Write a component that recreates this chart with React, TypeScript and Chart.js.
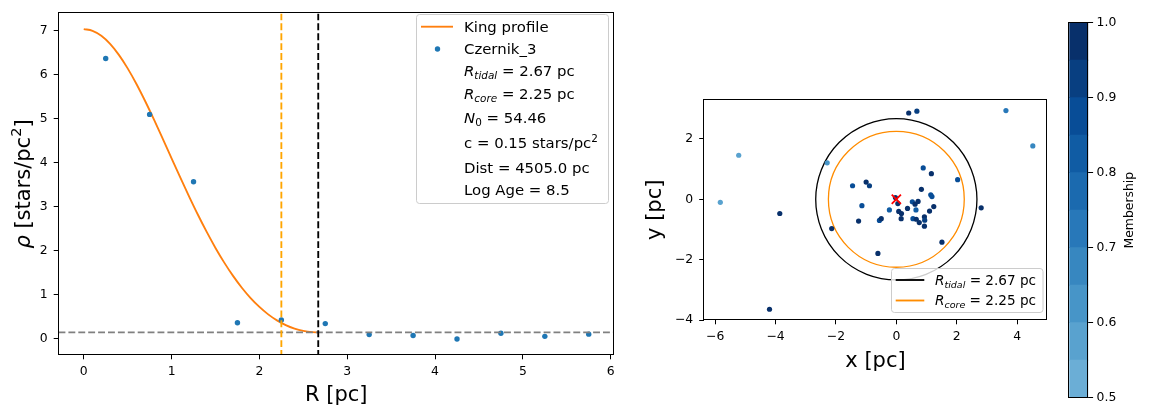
import React, { useEffect, useRef } from 'react';
import { Chart, registerables } from 'chart.js';

Chart.register(...registerables);

// ---------------- data ----------------
const PROFILE_R = [0.25, 0.75, 1.25, 1.75, 2.25, 2.75, 3.25, 3.75, 4.25, 4.75, 5.25, 5.75];
const PROFILE_RHO = [6.37, 5.1, 3.57, 0.37, 0.43, 0.35, 0.1, 0.08, 0.0, 0.13, 0.06, 0.11];

const KING_R = [0, 0.1, 0.2, 0.3, 0.4, 0.5, 0.6, 0.7, 0.8, 0.9, 1.0, 1.1, 1.2, 1.3, 1.4, 1.5, 1.6, 1.7, 1.8, 1.9,
  2.0, 2.1, 2.2, 2.3, 2.4, 2.5, 2.6, 2.67];
const KING_RHO = [7.037, 6.997, 6.885, 6.701, 6.452, 6.145, 5.791, 5.399, 4.98, 4.545, 4.103, 3.663, 3.234, 2.821,
  2.431, 2.068, 1.734, 1.433, 1.164, 0.929, 0.728, 0.559, 0.422, 0.314, 0.235, 0.183, 0.155, 0.15];

const R_TIDAL = 2.67;
const R_CORE = 2.25;
const BG_C = 0.15;
const N0 = 54.46;
const DIST = 4505.0;
const LOG_AGE = 8.5;
const CLUSTER = 'Czernik_3';

const LEFT_X_TICKS = [0, 1, 2, 3, 4, 5, 6];
const LEFT_Y_TICKS = [0, 1, 2, 3, 4, 5, 6, 7];

const STAR_X = [-5.83, -5.22, -4.2, -3.86, -2.29, -2.14, -1.45, -1.0, -0.89, -1.14, -1.25, -0.56, -0.5, -0.61, -0.23,
  -0.03, 0.05, 0.08, 0.17, 0.16, 0.37, 0.53, 0.62, 0.72, 0.65, 0.55, 0.66, 0.76, 0.93, 0.94, 0.93, 1.1, 1.24, 0.83,
  1.14, 1.18, 0.89, 1.16, 2.03, 2.81, 1.51, 0.41, 0.68, 3.63, 4.52];
const STAR_Y = [-0.1, 1.46, -3.64, -0.47, 1.21, -0.97, 0.45, 0.57, 0.45, -0.21, -0.72, -0.7, -0.64, -1.79, -0.35,
  0.06, -0.14, -0.4, -0.47, -0.64, -0.3, -0.08, -0.16, -0.07, -0.35, -0.64, -0.66, -0.77, -0.58, -0.69, -0.89, -0.39, -0.24, 0.33,
  0.15, 0.09, 1.04, 0.85, 0.65, -0.28, -1.42, 2.86, 2.92, 2.94, 1.77];
const STAR_MEMB = [0.57, 0.58, 0.98, 0.98, 0.62, 0.97, 0.85, 0.96, 0.9, 0.85, 0.95, 0.85, 0.95, 0.97, 0.82,
  0.95, 0.97, 0.97, 0.97, 0.95, 0.97, 0.85, 0.97, 0.97, 0.8, 0.88, 0.97, 0.97, 0.95, 0.92, 0.95, 0.97, 0.97, 0.97,
  0.85, 0.85, 0.85, 0.97, 0.85, 0.97, 0.97, 0.97, 0.9, 0.7, 0.65];
const CENTER_X = [0];
const CENTER_Y = [0];

const MAP_X_TICKS = [-6, -4, -2, 0, 2, 4];
const MAP_Y_TICKS = [-4, -2, 0, 2];

const CB_TICKS = [0.5, 0.6, 0.7, 0.8, 0.9, 1.0];
const CB_BAND_LOW = [0.5, 0.55, 0.6, 0.65, 0.7, 0.75, 0.8, 0.85, 0.9, 0.95];
const CB_BAND_HIGH = [0.55, 0.6, 0.65, 0.7, 0.75, 0.8, 0.85, 0.9, 0.95, 1.0];

// Blues colormap stops
const BLUES_POS = [0, 0.125, 0.25, 0.375, 0.5, 0.625, 0.75, 0.875, 1];
const BLUES_RGB = [
  [247, 251, 255], [222, 235, 247], [198, 219, 239], [158, 202, 225], [107, 174, 214],
  [66, 146, 198], [33, 113, 181], [8, 81, 156], [8, 48, 107],
];

// ---------------- helpers ----------------
const FONT = '"DejaVu Sans", sans-serif';
const TICK_SIZE = 12.4;

function blues(t: number): string {
  for (let i = 0; i < BLUES_POS.length - 1; i++) {
    if (t <= BLUES_POS[i + 1]) {
      const f = (t - BLUES_POS[i]) / (BLUES_POS[i + 1] - BLUES_POS[i]);
      const a = BLUES_RGB[i], b = BLUES_RGB[i + 1];
      const c = a.map((v, k) => Math.round(v + (b[k] - v) * f));
      return `rgb(${c[0]},${c[1]},${c[2]})`;
    }
  }
  const l = BLUES_RGB[BLUES_RGB.length - 1];
  return `rgb(${l[0]},${l[1]},${l[2]})`;
}
function bandColor(idx: number): string {
  return blues(0.5 + 0.5 * idx / 9);
}
function membColor(m: number): string {
  const idx = Math.max(0, Math.min(9, Math.floor((m - 0.5) / 0.05 + 1e-9)));
  return bandColor(idx);
}
const fmtMinus = (v: number) => (v < 0 ? '\u2212' + Math.abs(v) : String(v));

type Part = { t: string; it?: boolean; sub?: boolean; sup?: boolean };
function richWidth(ctx: CanvasRenderingContext2D, parts: Part[], size: number) {
  let w = 0;
  for (const p of parts) {
    const s = p.sub || p.sup ? size * 0.7 : size;
    ctx.font = `${p.it ? 'italic ' : ''}${s}px ${FONT}`;
    w += ctx.measureText(p.t).width;
  }
  return w;
}
function drawRich(ctx: CanvasRenderingContext2D, x: number, y: number, parts: Part[], size: number) {
  let cx = x;
  ctx.textBaseline = 'alphabetic';
  ctx.textAlign = 'left';
  for (const p of parts) {
    const s = p.sub || p.sup ? size * 0.7 : size;
    ctx.font = `${p.it ? 'italic ' : ''}${s}px ${FONT}`;
    const dy = p.sub ? size * 0.2 : p.sup ? -size * 0.42 : 0;
    ctx.fillText(p.t, cx, y + dy);
    cx += ctx.measureText(p.t).width;
  }
}
function roundRect(ctx: CanvasRenderingContext2D, x: number, y: number, w: number, h: number, r: number) {
  ctx.beginPath();
  ctx.moveTo(x + r, y);
  ctx.lineTo(x + w - r, y);
  ctx.arcTo(x + w, y, x + w, y + r, r);
  ctx.lineTo(x + w, y + h - r);
  ctx.arcTo(x + w, y + h, x + w - r, y + h, r);
  ctx.lineTo(x + r, y + h);
  ctx.arcTo(x, y + h, x, y + h - r, r);
  ctx.lineTo(x, y + r);
  ctx.arcTo(x, y, x + r, y, r);
  ctx.closePath();
}
function drawFrame(chart: any) {
  const ctx = chart.ctx as CanvasRenderingContext2D;
  const a = chart.chartArea;
  const l = Math.round(a.left);
  const r = Math.round(a.right);
  const t = Math.round(a.top);
  const b = Math.round(a.bottom);
  ctx.save();
  ctx.fillStyle = '#000';
  ctx.fillRect(l - 1, t - 1, r - l + 1, 1);
  ctx.fillRect(l - 1, b - 1, r - l + 1, 1);
  ctx.fillRect(l - 1, t - 1, 1, b - t + 1);
  ctx.fillRect(r - 1, t - 1, 1, b - t + 1);
  ctx.restore();
}

function linAxis(min: number, max: number, ticks: number[], fmt: (v: number) => string, size: { w?: number; h?: number }, pad: number, title?: any, extra: any = {}) {
  return {
    type: 'linear',
    min,
    max,
    afterBuildTicks: (s: any) => { s.ticks = ticks.map((v) => ({ value: v })); },
    afterFit: (s: any) => {
      if (size.w !== undefined) s.width = size.w;
      if (size.h !== undefined) s.height = size.h;
    },
    ticks: {
      font: { family: FONT, size: TICK_SIZE },
      color: '#000',
      padding: pad,
      autoSkip: false,
      maxRotation: 0,
      callback: (v: any) => fmt(Number(v)),
    },
    grid: { drawOnChartArea: false, drawTicks: true, tickLength: 4.8, color: '#000', lineWidth: 1 },
    border: { display: false },
    title: title || { display: false },
    ...extra,
  };
}

// ---------------- charts ----------------
function leftConfig(): any {
  const decor = {
    id: 'leftDecor',
    afterDatasetsDraw(chart: any) {
      const { ctx, chartArea: a, scales } = chart;
      const xs = scales.x, ys = scales.y;
      ctx.save();
      ctx.beginPath();
      ctx.rect(a.left, a.top, a.right - a.left, a.bottom - a.top);
      ctx.clip();
      ctx.lineWidth = 1.86;
      ctx.strokeStyle = 'gray';
      ctx.setLineDash([6.9, 3]);
      const y = ys.getPixelForValue(BG_C);
      ctx.beginPath(); ctx.moveTo(a.left, y); ctx.lineTo(a.right, y); ctx.stroke();
      ctx.strokeStyle = 'orange';
      let x = xs.getPixelForValue(R_CORE);
      ctx.beginPath(); ctx.moveTo(x, a.top); ctx.lineTo(x, a.bottom); ctx.stroke();
      ctx.strokeStyle = 'black';
      x = xs.getPixelForValue(R_TIDAL);
      ctx.beginPath(); ctx.moveTo(x, a.top); ctx.lineTo(x, a.bottom); ctx.stroke();
      ctx.restore();
    },
    afterDraw(chart: any) {
      const { ctx, chartArea: a } = chart;
      drawFrame(chart);
      ctx.save();
      const tParts: Part[] = [{ t: '\u03c1', it: true }, { t: ' [stars/pc' }, { t: '2', sup: true }, { t: ']' }];
      const w = richWidth(ctx, tParts, 21);
      ctx.translate(22, (a.top + a.bottom) / 2);
      ctx.rotate(-Math.PI / 2);
      ctx.fillStyle = '#000';
      drawRich(ctx, -w / 2, 7.5, tParts, 21);
      ctx.restore();

      ctx.save();
      roundRect(ctx, 416.5, 14.5, 192, 189, 3);
      ctx.fillStyle = 'rgba(255,255,255,0.8)';
      ctx.fill();
      ctx.strokeStyle = '#cccccc';
      ctx.lineWidth = 1;
      ctx.stroke();
      ctx.strokeStyle = '#ff7f0e';
      ctx.lineWidth = 1.86;
      ctx.beginPath(); ctx.moveTo(421, 26.7); ctx.lineTo(453, 26.7); ctx.stroke();
      ctx.fillStyle = '#1f77b4';
      ctx.beginPath(); ctx.arc(437.5, 49, 2.7, 0, Math.PI * 2); ctx.fill();
      ctx.fillStyle = '#000';
      const rows: Part[][] = [
        [{ t: 'King profile' }],
        [{ t: CLUSTER }],
        [{ t: 'R', it: true }, { t: 'tidal', it: true, sub: true }, { t: ` = ${R_TIDAL.toFixed(2)} pc` }],
        [{ t: 'R', it: true }, { t: 'core', it: true, sub: true }, { t: ` = ${R_CORE.toFixed(2)} pc` }],
        [{ t: 'N', it: true }, { t: '0', sub: true }, { t: ` = ${N0.toFixed(2)}` }],
        [{ t: `c = ${BG_C.toFixed(2)} stars/pc` }, { t: '2', sup: true }],
        [{ t: `Dist = ${DIST.toFixed(1)} pc` }],
        [{ t: `Log Age = ${LOG_AGE.toFixed(1)}` }],
      ];
      const base = [31.7, 53.7, 75.7, 99.3, 123.3, 148.3, 173.3, 195];
      rows.forEach((row, i) => drawRich(ctx, 464, base[i], row, 14.9));
      ctx.restore();
    },
  };
  return {
    type: 'scatter',
    data: {
      datasets: [
        {
          label: CLUSTER,
          data: PROFILE_R.map((r, i) => ({ x: r, y: PROFILE_RHO[i] })),
          backgroundColor: '#1f77b4',
          borderWidth: 0,
          pointRadius: 2.7,
          pointHoverRadius: 2.7,
          showLine: false,
        },
        {
          label: 'King profile',
          data: KING_R.map((r, i) => ({ x: r, y: KING_RHO[i] })),
          borderColor: '#ff7f0e',
          borderWidth: 1.86,
          pointRadius: 0,
          showLine: true,
          cubicInterpolationMode: 'monotone',
        },
      ],
    },
    options: {
      responsive: false,
      animation: false,
      events: [],
      layout: { autoPadding: false, padding: { left: 0, top: 7, right: 640 - 614, bottom: 0 } },
      plugins: { legend: { display: false }, tooltip: { enabled: false } },
      scales: {
        x: linAxis(-0.2875, 6.0375, LEFT_X_TICKS, (v) => String(v), { h: 410 - 354.5 }, 5, {
          display: true, text: 'R [pc]', color: '#000', font: { family: FONT, size: 21, lineHeight: 1.2 }, padding: { top: 0, bottom: 2 },
        }),
        y: linAxis(-0.352, 7.392, LEFT_Y_TICKS, (v) => String(v), { w: 58.5 }, 6),
      },
    },
    plugins: [decor],
  };
}

function rightConfig(): any {
  const decor = {
    id: 'rightDecor',
    beforeDatasetsDraw(chart: any) {
      const { ctx, chartArea: a, scales } = chart;
      const xs = scales.x, ys = scales.y;
      const cx = xs.getPixelForValue(CENTER_X[0]);
      const cy = ys.getPixelForValue(CENTER_Y[0]);
      ctx.save();
      ctx.beginPath();
      ctx.rect(a.left, a.top, a.right - a.left, a.bottom - a.top);
      ctx.clip();
      ctx.lineWidth = 1.3;
      const circles: [number, string][] = [[R_TIDAL, '#000'], [R_CORE, 'darkorange']];
      for (const [rad, col] of circles) {
        const rx = Math.abs(xs.getPixelForValue(CENTER_X[0] + rad) - cx);
        const ry = Math.abs(ys.getPixelForValue(CENTER_Y[0] + rad) - cy);
        ctx.strokeStyle = col;
        ctx.beginPath();
        ctx.ellipse(cx, cy, rx, ry, 0, 0, Math.PI * 2);
        ctx.stroke();
      }
      ctx.restore();
    },
    afterDraw(chart: any) {
      const { ctx } = chart;
      drawFrame(chart);
      const ox = 640;
      ctx.save();
      roundRect(ctx, 891.5 - ox, 268.5, 151.5, 44, 3);
      ctx.fillStyle = 'rgba(255,255,255,0.8)';
      ctx.fill();
      ctx.strokeStyle = '#cccccc';
      ctx.lineWidth = 1;
      ctx.stroke();
      ctx.lineWidth = 1.86;
      ctx.strokeStyle = '#000';
      ctx.beginPath(); ctx.moveTo(895.7 - ox, 280); ctx.lineTo(924.3 - ox, 280); ctx.stroke();
      ctx.strokeStyle = 'darkorange';
      ctx.beginPath(); ctx.moveTo(895.7 - ox, 300.5); ctx.lineTo(924.3 - ox, 300.5); ctx.stroke();
      ctx.fillStyle = '#000';
      drawRich(ctx, 935 - ox, 285, [{ t: 'R', it: true }, { t: 'tidal', it: true, sub: true }, { t: ` = ${R_TIDAL.toFixed(2)} pc` }], 13.6);
      drawRich(ctx, 935 - ox, 305, [{ t: 'R', it: true }, { t: 'core', it: true, sub: true }, { t: ` = ${R_CORE.toFixed(2)} pc` }], 13.6);
      ctx.restore();
    },
  };
  return {
    type: 'scatter',
    data: {
      datasets: [
        {
          label: 'center',
          data: CENTER_X.map((x, i) => ({ x, y: CENTER_Y[i] })),
          pointStyle: 'crossRot',
          pointRadius: 6.5,
          borderColor: 'red',
          borderWidth: 1.8,
          backgroundColor: 'red',
        },
        {
          label: 'members',
          data: STAR_X.map((x, i) => ({ x, y: STAR_Y[i] })),
          backgroundColor: STAR_MEMB.map((m) => membColor(m)),
          borderWidth: 0,
          pointRadius: 2.6,
        },
      ],
    },
    options: {
      responsive: false,
      animation: false,
      events: [],
      layout: { autoPadding: false, padding: { left: 0, top: 100, right: 420 - 407, bottom: 0 } },
      plugins: { legend: { display: false }, tooltip: { enabled: false } },
      scales: {
        x: linAxis(-6.37, 4.99, MAP_X_TICKS, fmtMinus, { h: 410 - 319.5 }, 5, {
          display: true, text: 'x [pc]', color: '#000', font: { family: FONT, size: 21, lineHeight: 1.2 }, padding: { top: 0, bottom: 36 },
        }),
        y: linAxis(-3.98, 3.29, MAP_Y_TICKS, fmtMinus, { w: 64 }, 6, {
          display: true, text: 'y [pc]', color: '#000', font: { family: FONT, size: 21, lineHeight: 1.2 }, padding: { top: 3, bottom: 0 },
        }),
      },
    },
    plugins: [decor],
  };
}

function cbConfig(): any {
  const decor = {
    id: 'cbDecor',
    afterDraw(chart: any) {
      const { ctx, chartArea: a } = chart;
      drawFrame(chart);
      ctx.save();
      ctx.translate(70, (a.top + a.bottom) / 2);
      ctx.rotate(-Math.PI / 2);
      ctx.fillStyle = '#000';
      ctx.font = `${TICK_SIZE}px ${FONT}`;
      ctx.textAlign = 'center';
      ctx.textBaseline = 'middle';
      ctx.fillText('Membership', 0, 0);
      ctx.restore();
    },
  };
  return {
    type: 'bar',
    data: {
      labels: ['cb'],
      datasets: CB_BAND_LOW.map((lo, i) => ({
        label: String(lo),
        data: [[lo, CB_BAND_HIGH[i]]],
        backgroundColor: bandColor(i),
        borderWidth: 0,
        barPercentage: 1,
        categoryPercentage: 1,
        grouped: false,
      })),
    },
    options: {
      responsive: false,
      animation: false,
      events: [],
      layout: { autoPadding: false, padding: { left: 9.3, top: 22.7, right: 0, bottom: 410 - 397.7 } },
      plugins: { legend: { display: false }, tooltip: { enabled: false } },
      scales: {
        x: { type: 'category', display: false },
        y: linAxis(0.5, 1.0, CB_TICKS, (v) => v.toFixed(1), { w: 91 - 28.3 }, 3.5, undefined, { position: 'right' }),
      },
    },
    plugins: [decor],
  };
}

export default function App() {
  const leftRef = useRef<HTMLCanvasElement>(null);
  const rightRef = useRef<HTMLCanvasElement>(null);
  const cbRef = useRef<HTMLCanvasElement>(null);

  useEffect(() => {
    Chart.defaults.font.family = FONT;
    const charts: Chart[] = [];
    if (leftRef.current) charts.push(new Chart(leftRef.current, leftConfig()));
    if (rightRef.current) charts.push(new Chart(rightRef.current, rightConfig()));
    if (cbRef.current) charts.push(new Chart(cbRef.current, cbConfig()));
    return () => charts.forEach((c) => c.destroy());
  }, []);

  return (
    <div style={{ position: 'absolute', left: 0, top: 0, width: 1151, height: 410, background: '#fff', overflow: 'hidden' }}>
      <canvas ref={leftRef} width={640} height={410} style={{ position: 'absolute', left: 0, top: 0, width: 640, height: 410 }} />
      <canvas ref={rightRef} width={420} height={410} style={{ position: 'absolute', left: 640, top: 0, width: 420, height: 410 }} />
      <canvas ref={cbRef} width={91} height={410} style={{ position: 'absolute', left: 1060, top: 0, width: 91, height: 410 }} />
    </div>
  );
}
